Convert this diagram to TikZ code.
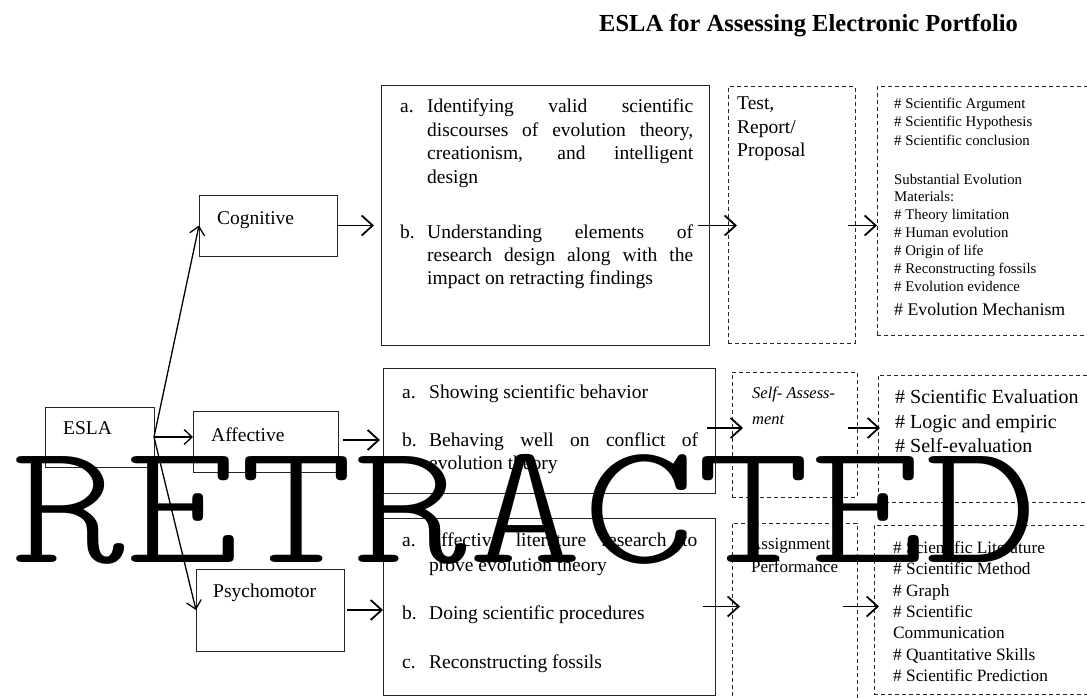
\documentclass[tikz,border=0pt]{standalone}
\usepackage{fontspec}
\setmainfont{Liberation Serif}
\newfontfamily\wmfont{Latin Modern Mono Light}
\usetikzlibrary{arrows.meta,calc}
\newcommand\jline[2]{\makebox[#1][s]{#2}}
\tikzset{
  solidbox/.style={draw=black!85, line width=1pt, inner sep=0pt, outer sep=0pt, anchor=north west},
  dashbox/.style={draw=black!85, line width=1pt, dash pattern=on 4pt off 3pt, inner sep=0pt, outer sep=0pt, anchor=north west},
  bodytxt/.style={anchor=base west, inner sep=0pt, font=\fontsize{19.5}{23}\selectfont},
  smalltxt/.style={anchor=base west, inner sep=0pt, font=\fontsize{14.8}{18}\selectfont},
  midtxt/.style={anchor=base west, inner sep=0pt, font=\fontsize{17.3}{21}\selectfont},
  bigtxt/.style={anchor=base west, inner sep=0pt, font=\fontsize{20}{24}\selectfont},
  arr/.style={line width=1.8pt, -{Straight Barb[length=11pt,width=20pt]}},
  thinarr/.style={line width=1.3pt, -{Straight Barb[length=8pt,width=15pt]}},
}
\begin{document}
\begin{tikzpicture}[x=1pt,y=-1pt]
\useasboundingbox (0,0) rectangle (1087,698);

% title
\node[anchor=base west, inner sep=0pt, font=\bfseries\fontsize{24.5}{28}\selectfont] (title) at (599,32) {ESLA for Assessing Electronic Portfolio};

% boxes
\node[solidbox, minimum width=109pt, minimum height=60pt] (esla) at (45,407) {};
\node[solidbox, minimum width=138pt, minimum height=61pt] (cog) at (199,195) {};
\node[solidbox, minimum width=145pt, minimum height=61pt] (aff) at (193,411) {};
\node[solidbox, minimum width=148pt, minimum height=82pt] (psy) at (196,569) {};
\node[solidbox, minimum width=328pt, minimum height=259pt] (box1) at (381,86) {};
\node[dashbox, minimum width=127pt, minimum height=256pt] (test) at (728,87) {};
\node[dashbox, minimum width=216pt, minimum height=248pt] (r1) at (877,87) {};
\node[solidbox, minimum width=332pt, minimum height=125pt] (box2) at (383,368) {};
\node[dashbox, minimum width=125pt, minimum height=125pt] (self) at (732,372) {};
\node[dashbox, minimum width=216pt, minimum height=127pt] (r2) at (878,375) {};
\node[solidbox, minimum width=332pt, minimum height=177pt] (box3) at (383,518) {};
\node[dashbox, minimum width=125pt, minimum height=190pt] (assign) at (732,523) {};
\node[dashbox, minimum width=220pt, minimum height=169pt] (r3) at (874,525) {};

% box labels
\node[bodytxt] (eslat) at (63,434) {ESLA};
\node[bodytxt] (cogt) at (217,224) {Cognitive};
\node[bodytxt] (afft) at (211,441) {Affective};
\node[bodytxt] (psyt) at (213,597) {Psychomotor};

% box1 text
\node[bodytxt] (c1la) at (400,113) {a.};
\node[bodytxt] (c1a1) at (427,113) {\jline{266pt}{Identifying valid scientific}};
\node[bodytxt] (c1a2) at (427,136.3) {\jline{266pt}{discourses of evolution theory,}};
\node[bodytxt] (c1a3) at (427,159.6) {\jline{266pt}{creationism, and intelligent}};
\node[bodytxt] (c1a4) at (427,183) {design};
\node[bodytxt] (c1lb) at (400,238) {b.};
\node[bodytxt] (c1b1) at (427,238) {\jline{266pt}{Understanding elements of}};
\node[bodytxt] (c1b2) at (427,261.3) {\jline{266pt}{research design along with the}};
\node[bodytxt] (c1b3) at (427,284.6) {impact on retracting findings};

% test box text
\node[bodytxt] (tt1) at (737,110) {Test,};
\node[bodytxt] (tt2) at (737,133.5) {Report/};
\node[bodytxt] (tt3) at (737,157) {Proposal};

% r1 text
\node[smalltxt] (r1a) at (894,108.5) {\# Scientific Argument};
\node[smalltxt] (r1b) at (894,127) {\# Scientific Hypothesis};
\node[smalltxt] (r1c) at (894,145.5) {\# Scientific conclusion};
\node[smalltxt] (r1d) at (894,184) {Substantial Evolution};
\node[smalltxt] (r1e) at (894,201.5) {Materials:};
\node[smalltxt] (r1f) at (894,219.5) {\# Theory limitation};
\node[smalltxt] (r1g) at (894,237.5) {\# Human evolution};
\node[smalltxt] (r1h) at (894,255.5) {\# Origin of life};
\node[smalltxt] (r1i) at (894,273.5) {\# Reconstructing fossils};
\node[smalltxt] (r1j) at (894,291.5) {\# Evolution evidence};
\node[anchor=base west, inner sep=0pt, font=\fontsize{17.8}{21}\selectfont] (r1k) at (894,315) {\# Evolution Mechanism};

% box2 text
\node[bodytxt] (c2la) at (402,398) {a.};
\node[bodytxt] (c2a1) at (429,398) {Showing scientific behavior};
\node[bodytxt] (c2lb) at (402,446) {b.};
\node[bodytxt] (c2b1) at (429,446) {\jline{269pt}{Behaving well on conflict of}};
\node[bodytxt] (c2b2) at (429,469) {evolution theory};

% self text
\node[anchor=base west, inner sep=0pt, font=\itshape\fontsize{16.5}{20}\selectfont] (st1) at (752,398) {Self- Assess-};
\node[anchor=base west, inner sep=0pt, font=\itshape\fontsize{16.5}{20}\selectfont] (st2) at (752,424) {ment};

% r2 text
\node[bigtxt] (r2a) at (895,403) {\# Scientific Evaluation};
\node[bigtxt] (r2b) at (895,428) {\# Logic and empiric};
\node[bigtxt] (r2c) at (895,452) {\# Self-evaluation};

% box3 text
\node[bodytxt] (c3la) at (402,546) {a.};
\node[bodytxt] (c3a1) at (429,546) {\jline{268pt}{Effective literature research to}};
\node[bodytxt] (c3a2) at (429,571) {prove evolution theory};
\node[bodytxt] (c3lb) at (402,619) {b.};
\node[bodytxt] (c3b1) at (429,619) {Doing scientific procedures};
\node[bodytxt] (c3lc) at (402,668) {c.};
\node[bodytxt] (c3c1) at (429,668) {Reconstructing fossils};

% assign text
\node[anchor=base west, inner sep=0pt, font=\fontsize{17}{21}\selectfont] (at1) at (749,549) {Assignment};
\node[anchor=base west, inner sep=0pt, font=\fontsize{17}{21}\selectfont] (at2) at (751,572) {Performance};

% r3 text
\node[midtxt] (r3a) at (893,553.5) {\# Scientific Literature};
\node[midtxt] (r3b) at (893,574.8) {\# Scientific Method};
\node[midtxt] (r3c) at (893,596.1) {\# Graph};
\node[midtxt] (r3d) at (893,617.4) {\# Scientific};
\node[midtxt] (r3e) at (893,638.7) {Communication};
\node[midtxt] (r3f) at (893,660) {\# Quantitative Skills};
\node[midtxt] (r3g) at (893,681.3) {\# Scientific Prediction};

% connectors from ESLA
\draw[thinarr] (esla.east) -- (cog.west);
\draw[thinarr] (esla.east) -- (esla.east -| aff.west);
\draw[thinarr] (esla.east) -- (psy.west);

% row arrows
\draw[arr] (cog.east) -- ($(cog.east -| box1.west)+(-7,0)$);
\draw[arr] ($(aff.east)+(5,-1.5)$) -- ($(aff.east -| box2.west)+(-3,-1.5)$);
\draw[arr] ($(psy.east)+(3,0)$) -- (psy.east -| box3.west);

\draw[arr] ($(box1.east |- cog.east)+(-11,0)$) -- ($(test.west |- cog.east)+(9,0)$);
\draw[arr] ($(test.east |- cog.east)+(-7,0)$) -- (r1.west |- cog.east);

\draw[arr] ($(box2.east)+(-8,-2.5)$) -- ($(self.west)+(11,-6.5)$);
\draw[arr] ($(self.east)+(-9,-6.5)$) -- ($(r2.west)+(2,-10.5)$);

\draw[arr] ($(box3.east)+(-12,0)$) -- ($(box3.east -| assign.west)+(8,0)$);
\draw[arr] ($(assign.east |- box3.east)+(-14,0)$) -- ($(r3.west |- box3.east)+(5,0)$);

% watermark
\node[anchor=base west, inner sep=0pt] (wm) at (11,562) {\resizebox{1028pt}{108pt}{\wmfont RETRACTED}};
\end{tikzpicture}
\end{document}
